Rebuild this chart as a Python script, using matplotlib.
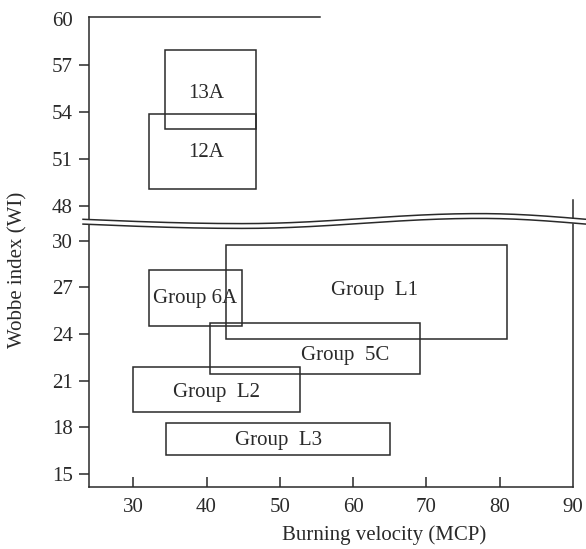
import numpy as np
import matplotlib
matplotlib.use("Agg")
import matplotlib.pyplot as plt
from matplotlib.patches import Rectangle

plt.rcParams["font.family"] = ["Liberation Serif", "DejaVu Serif"]

# regions: (label, x0, x1, y0, y1) in burning velocity / Wobbe index units
top_names = ["13A", "12A"]
top_x0 = [34.3, 32.2]
top_x1 = [46.7, 46.7]
top_y0 = [52.9, 49.1]
top_y1 = [58.0, 53.9]
top_tx = [40.0, 40.0]
top_ty = [55.2, 51.4]

bot_names = ["Group  L1", "Group 6A", "Group  5C", "Group  L2", "Group  L3"]
bot_x0 = [42.7, 32.2, 40.5, 30.0, 34.4]
bot_x1 = [81.0, 44.9, 69.1, 52.7, 65.0]
bot_y0 = [23.7, 24.5, 21.4, 19.0, 16.2]
bot_y1 = [29.7, 28.1, 24.7, 21.9, 18.3]
bot_tx = [62.9, 38.4, 58.9, 41.3, 49.8]
bot_ty = [26.8, 26.3, 22.6, 20.25, 17.15]

x_ticks = [30, 40, 50, 60, 70, 80, 90]
top_yticks = [48, 51, 54, 57, 60]
bot_yticks = [15, 18, 21, 24, 27, 30]

W, H = 586, 549
ink = "#2a2a2a"
fs = 15


def frame(l, t, r, b):
    return [l / W, 1 - b / H, (r - l) / W, (b - t) / H]


fig = plt.figure(figsize=(W / 100, H / 100), dpi=100)
ax_top = fig.add_axes(frame(89.3, 16.7, 573, 222))
ax_bot = fig.add_axes(frame(89.3, 222, 573, 486.7))

xlim = (24.0, 90.0)
for ax in (ax_top, ax_bot):
    ax.set_xlim(*xlim)
    ax.patch.set_visible(False)
    for s in ax.spines.values():
        s.set_color(ink)
        s.set_linewidth(1.1)
ax_top.set_ylim(46.96, 60.13)
ax_bot.set_ylim(14.18, 31.2)

# top panel: only the left spine plus a short top line
for s in ("top", "right", "bottom"):
    ax_top.spines[s].set_visible(False)
ax_top.set_xticks([])
ax_top.set_yticks(top_yticks)
ax_top.yaxis.get_major_ticks()[-1].tick1line.set_visible(False)
ax_top.plot([xlim[0], 55.5], [1, 1], color=ink, lw=1.1,
            transform=ax_top.get_xaxis_transform(), clip_on=False)

ax_bot.spines["top"].set_visible(False)
ax_bot.set_xticks(x_ticks)
ax_bot.set_yticks(bot_yticks)
ax_bot.xaxis.get_major_ticks()[-1].tick1line.set_visible(False)
ax_bot.tick_params(axis="x", direction="in", length=7, width=1.1, color=ink,
                   labelsize=fs, labelcolor=ink, pad=8)
ax_bot.plot([xlim[1], xlim[1]], [31.2, 32.6], color=ink, lw=1.1, clip_on=False)
for ax in (ax_top, ax_bot):
    ax.tick_params(axis="y", direction="out", length=7, width=1.1, color=ink,
                   labelsize=fs, labelcolor=ink, pad=5)

for ax, names, x0, x1, y0, y1, tx, ty in (
        (ax_top, top_names, top_x0, top_x1, top_y0, top_y1, top_tx, top_ty),
        (ax_bot, bot_names, bot_x0, bot_x1, bot_y0, bot_y1, bot_tx, bot_ty)):
    for n, a, b, c, d, u, v in zip(names, x0, x1, y0, y1, tx, ty):
        ax.add_patch(Rectangle((a, c), b - a, d - c, fill=False,
                               edgecolor=ink, lw=1.1))
        ax.text(u, v, n, ha="center", va="center", fontsize=fs, color=ink)

# wavy break mark drawn in pixel space
ax_w = fig.add_axes([0, 0, 1, 1])
ax_w.set_xlim(0, W)
ax_w.set_ylim(H, 0)
ax_w.axis("off")
px = np.linspace(83, 586, 400)
wave = np.where(px < 243, 221.7 + 4.3 * np.sin(np.pi / 2 * (px - 83) / 160),
                np.where(px < 480, 221 + 5 * np.cos(np.pi * (px - 243) / 237),
                         216 + 5.7 * (1 - np.cos(np.pi / 2 * (px - 480) / 106))))
ax_w.fill_between(px, wave - 2.4, wave + 2.4, color="white", lw=0)
ax_w.plot(px, wave - 2.4, color=ink, lw=1.1)
ax_w.plot(px, wave + 2.4, color=ink, lw=1.1)

fig.text(384 / W, 1 - 535 / H, "Burning velocity (MCP)", ha="center",
         va="center", fontsize=fs, color=ink)
fig.text(18 / W, 1 - 270 / H, "Wobbe index (WI)", ha="center", va="center",
         rotation=90, fontsize=fs, color=ink)

fig.savefig("out.png", dpi=100)
